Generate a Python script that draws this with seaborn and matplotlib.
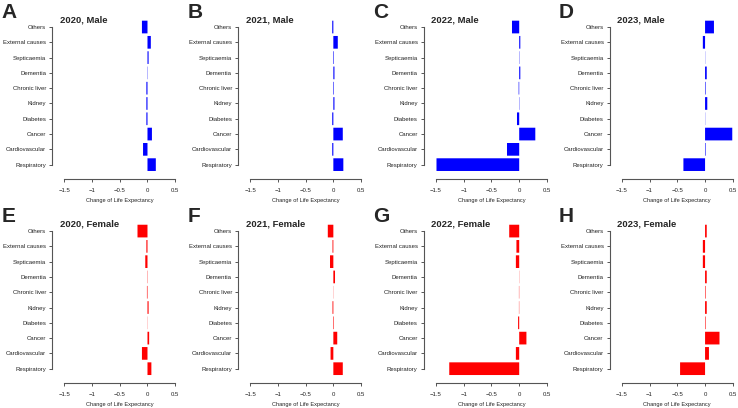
import matplotlib
matplotlib.use('Agg')
import numpy as np
import pandas as pd
from matplotlib import pyplot as plt
import seaborn as sns

# przyczyny zgonow (od gory do dolu)
causes = ['Others', 'External causes', 'Septicaemia', 'Dementia', 'Chronic liver',
          'Kidney', 'Diabetes', 'Cancer', 'Cardiovascular', 'Respiratory']

years = ['2020', '2021', '2022', '2023']
letters_male = ['A', 'B', 'C', 'D']
letters_female = ['E', 'F', 'G', 'H']

# zmiana oczekiwanej dlugosci zycia - mezczyzni
male_2020 = [-0.10, 0.06, 0.02, -0.005, -0.02, -0.02, -0.02, 0.08, -0.08, 0.15]
male_2021 = [-0.02, 0.08, 0.01, 0.02, 0.01, 0.02, -0.02, 0.17, -0.02, 0.18]
male_2022 = [-0.13, 0.02, 0.005, 0.02, -0.01, 0.005, -0.04, 0.29, -0.22, -1.49]
male_2023 = [0.16, -0.04, 0.003, 0.03, 0.01, 0.04, 0.003, 0.49, 0.01, -0.39]

# kobiety
female_2020 = [-0.18, -0.02, -0.04, -0.005, -0.01, 0.02, 0.003, 0.03, -0.10, 0.07]
female_2021 = [-0.10, -0.015, -0.06, 0.03, 0.003, -0.015, 0.01, 0.07, -0.05, 0.17]
female_2022 = [-0.18, -0.05, -0.06, 0.003, -0.005, -0.005, -0.02, 0.13, -0.06, -1.26]
female_2023 = [0.03, -0.04, -0.04, 0.03, 0.01, 0.03, 0.01, 0.26, 0.07, -0.45]

male = [male_2020, male_2021, male_2022, male_2023]
female = [female_2020, female_2021, female_2022, female_2023]

sns.set_style('ticks')
plt.rcParams['font.family'] = ['Liberation Sans', 'DejaVu Sans']

fig, axes = plt.subplots(2, 4, figsize=(7.38, 4.08), dpi=100)
fig.subplots_adjust(left=0.081, right=0.999, top=0.951, bottom=0.072,
                    wspace=0.55, hspace=0.32)

line_col = '#555555'

for row, (vals_list, sex, colr, letters) in enumerate(
        [(male, 'Male', '#0000FF', letters_male),
         (female, 'Female', '#FF0000', letters_female)]):
    for col in range(4):
        ax = axes[row, col]
        df = pd.DataFrame({'cause': causes, 'value': vals_list[col]})
        sns.barplot(data=df, x='value', y='cause', order=causes, color=colr,
                    saturation=1, width=0.83, linewidth=0, edgecolor='none', ax=ax)
        for p in ax.patches:
            p.set_snap(False)
        ax.set_xlim(-1.58, 0.58)
        ax.set_ylim(9.65, -0.46)
        ax.set_xticks([-1.5, -1, -0.5, 0, 0.5])
        ax.set_xticklabels(['\u22121.5', '\u22121', '\u22120.5', '0', '0.5'])
        ax.tick_params(axis='both', labelsize=4.3, length=2.4, width=0.7,
                       color=line_col, labelcolor='#222222', pad=2)
        ax.tick_params(axis='x', pad=4)
        for s in ['top', 'right']:
            ax.spines[s].set_visible(False)
        ax.spines['left'].set_position(('outward', 5.5))
        ax.spines['bottom'].set_position(('outward', 3))
        ax.spines['left'].set_bounds(0, 9)
        ax.spines['bottom'].set_bounds(-1.5, 0.5)
        for s in ['left', 'bottom']:
            ax.spines[s].set_color(line_col)
            ax.spines[s].set_linewidth(0.8)
        ax.set_ylabel('')
        ax.set_xlabel('Change of Life Expectancy', fontsize=4.1, labelpad=4,
                      color='#222222')
        ax.text(0.0, 1.0, f'{years[col]}, {sex}', transform=ax.transAxes,
                fontsize=6.8, fontweight='bold', ha='left', va='center')
        # litera panelu
        bbox = ax.get_position()
        fig.text(bbox.x0 - 0.079, bbox.y1 + 0.018, letters[col], fontsize=15,
                 fontweight='bold', ha='left', va='center')

fig.savefig('out.png', dpi=100)
